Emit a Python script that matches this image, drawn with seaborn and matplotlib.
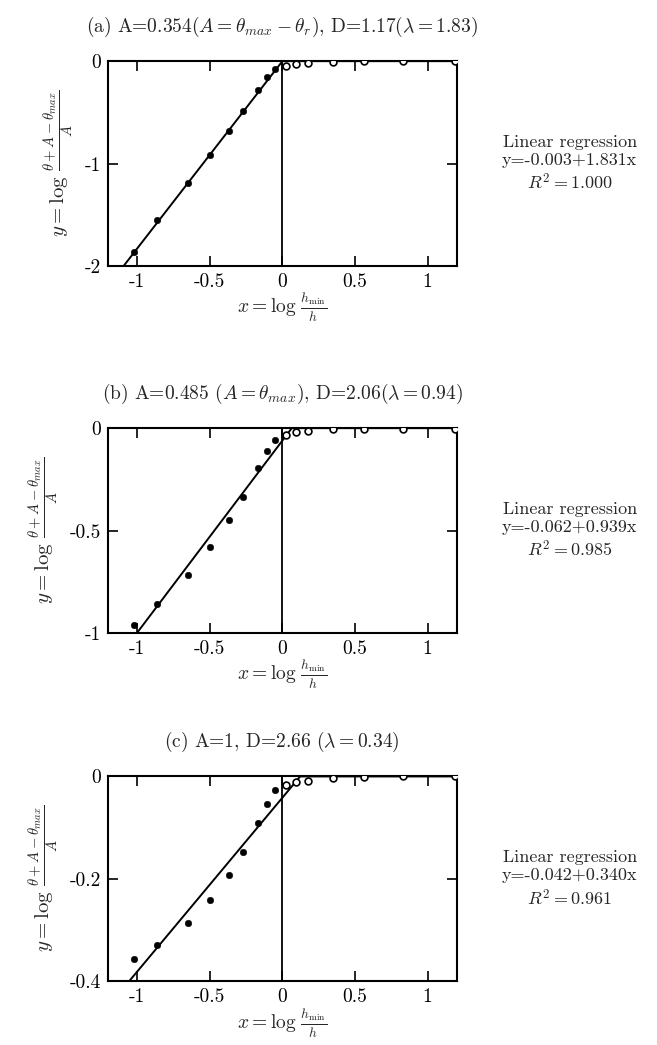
import numpy as np
import pandas as pd
import seaborn as sns
from matplotlib import pyplot as plt

sns.set_theme(style="ticks")
plt.rcParams['font.family'] = ['cmr10', 'DejaVu Serif']
plt.rcParams['mathtext.fontset'] = 'cm'
plt.rcParams['axes.unicode_minus'] = False
plt.rcParams['axes.formatter.use_mathtext'] = True

# x = log(h_min/h), same in all three panels
x_fill = [-1.02, -0.86, -0.645, -0.50, -0.367, -0.27, -0.167, -0.104, -0.047]
x_open = [0.028, 0.095, 0.176, 0.352, 0.565, 0.833, 1.192]

# (a)
ya_fill = [-1.861, -1.553, -1.188, -0.913, -0.683, -0.485, -0.282, -0.159, -0.074]
ya_open = [-0.045, -0.026, -0.016, -0.006, -0.003, -0.003, 0.0]
# (b)
yb_fill = [-0.961, -0.861, -0.716, -0.582, -0.448, -0.334, -0.197, -0.113, -0.056]
yb_open = [-0.032, -0.019, -0.013, -0.006, -0.002, -0.005, -0.002]
# (c)
yc_fill = [-0.357, -0.330, -0.286, -0.241, -0.193, -0.147, -0.091, -0.053, -0.027]
yc_open = [-0.016, -0.010, -0.008, -0.003, -0.001, 0.0, 0.0]

# regression coefficients (intercept, slope, R^2)
coef_a = (-0.003, 1.831, 1.000)
coef_b = (-0.062, 0.939, 0.985)
coef_c = (-0.042, 0.340, 0.961)

titles = [r"(a) A=0.354($A=\theta_{max}-\theta_r$), D=1.17($\lambda=1.83$)",
          r"(b) A=0.485 ($A=\theta_{max}$), D=2.06($\lambda=0.94$)",
          r"(c) A=1, D=2.66 ($\lambda=0.34$)"]
ylims = [(-2, 0), (-1, 0), (-0.4, 0)]
yticks = [[-2, -1, 0], [-1, -0.5, 0], [-0.4, -0.2, 0]]
ytick_labels = [["-2", "-1", "0"], ["-1", "-0.5", "0"], ["-0.4", "-0.2", "0"]]
xticks = [-1, -0.5, 0, 0.5, 1]
xtick_labels = ["-1", "-0.5", "0", "0.5", "1"]

fig = plt.figure(figsize=(6.57, 10.45), dpi=100)
bottoms = [0.7455, 0.3943, 0.061]

panels = [(ya_fill, ya_open, coef_a), (yb_fill, yb_open, coef_b), (yc_fill, yc_open, coef_c)]

for i, (yf, yo, coef) in enumerate(panels):
    ax = fig.add_axes([0.164, bottoms[i], 0.531, 0.196])
    a, b, r2 = coef
    xl = np.linspace(-1.3, 1.3, 400)
    line = pd.DataFrame({"x": xl, "y": np.minimum(a + b * xl, 0)})
    sns.lineplot(ax=ax, data=line, x="x", y="y", color="black", lw=1.4)
    ax.axvline(0, color="black", lw=1.3)
    sns.scatterplot(ax=ax, x=x_fill, y=yf, color="black", s=22, edgecolor="black", zorder=3)
    sns.scatterplot(ax=ax, x=x_open, y=yo, facecolor="white", s=24, edgecolor="black",
                    linewidth=1.2, zorder=3)
    ax.set_xlim(-1.2, 1.2)
    ax.set_ylim(*ylims[i])
    ax.set_xticks(xticks)
    ax.set_xticklabels(xtick_labels)
    ax.set_yticks(yticks[i])
    ax.set_yticklabels(ytick_labels[i])
    ax.tick_params(direction="in", top=True, right=True, length=7, width=1.2,
                   labelsize=14, colors="black", pad=5)
    for s in ax.spines.values():
        s.set_linewidth(1.5)
        s.set_color("black")
    ax.set_title(titles[i], fontsize=14, pad=21)
    ax.set_xlabel(r"$x=\log\,\frac{h_{\mathrm{min}}}{h}$", fontsize=14, labelpad=0)
    ax.set_ylabel(r"$y=\log\,\frac{\theta+A-\theta_{max}}{A}$", fontsize=15, labelpad=6)
    ax.text(1.324, 0.5, "Linear regression\ny=%.3f+%.3fx\n$R^2=%.3f$" % (a, b, r2),
            transform=ax.transAxes, ha="center", va="center", fontsize=13,
            linespacing=1.25)

fig.savefig("out.png", dpi=100)
